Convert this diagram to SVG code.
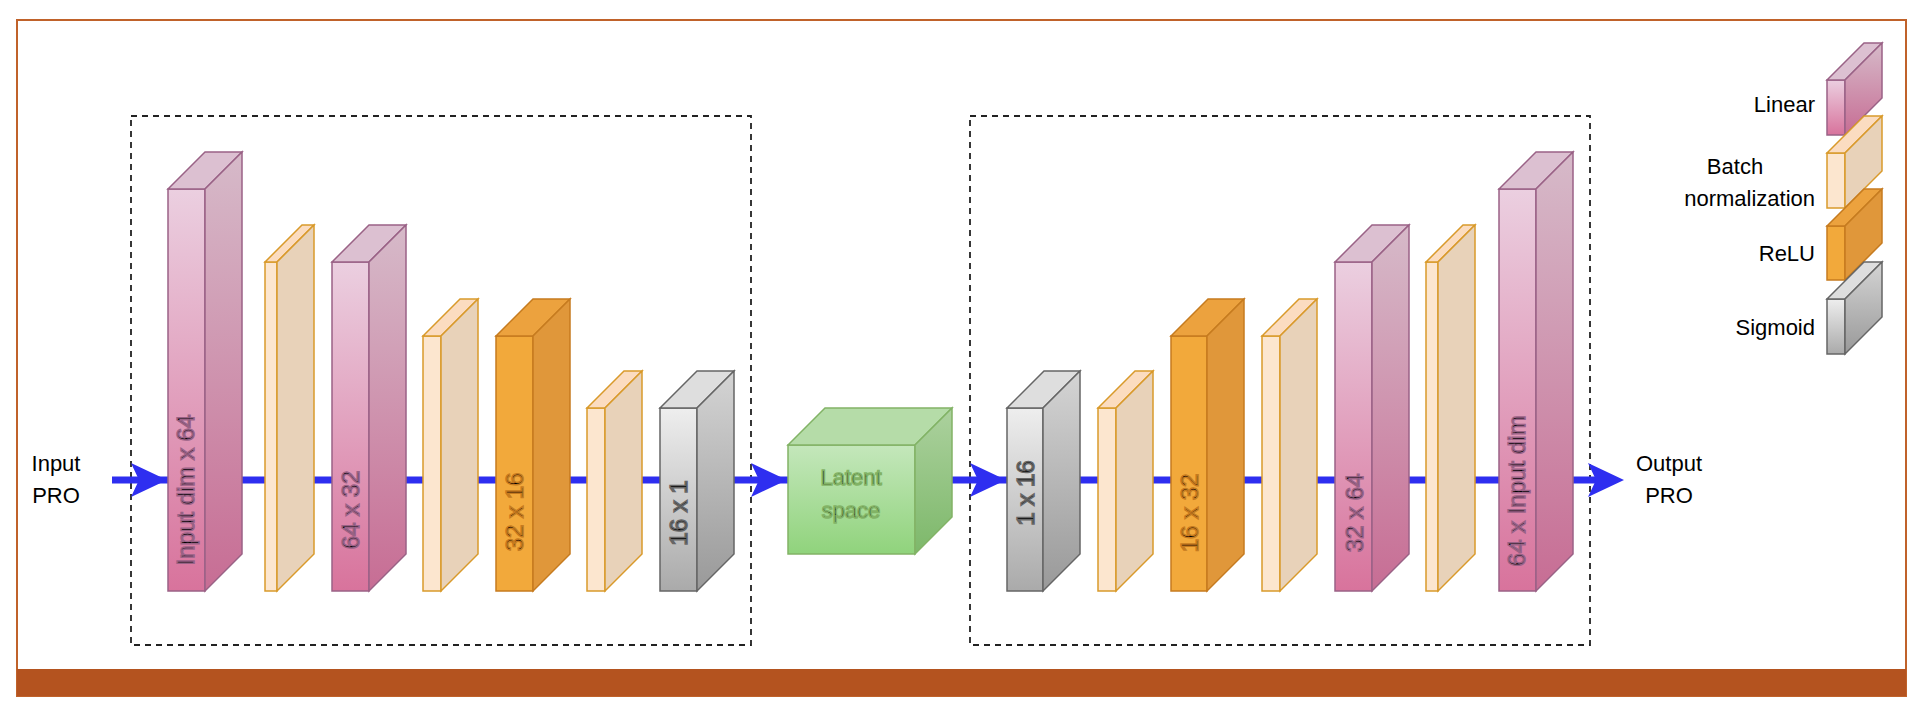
<svg xmlns="http://www.w3.org/2000/svg" width="1920" height="711" viewBox="0 0 1920 711">
<defs>
<linearGradient id="lf" x1="0" y1="0" x2="0" y2="1"><stop offset="0" stop-color="#ebcfe0"/><stop offset="1" stop-color="#d8739c"/></linearGradient>
<linearGradient id="ls" x1="0" y1="0" x2="0" y2="1"><stop offset="0" stop-color="#d6bac9"/><stop offset="1" stop-color="#c76d94"/></linearGradient>
<linearGradient id="sf" x1="0" y1="0" x2="0" y2="1"><stop offset="0" stop-color="#eeeeee"/><stop offset="1" stop-color="#aaaaaa"/></linearGradient>
<linearGradient id="ss" x1="0" y1="0" x2="0" y2="1"><stop offset="0" stop-color="#d4d4d4"/><stop offset="1" stop-color="#999999"/></linearGradient>
<linearGradient id="gf" x1="0" y1="0" x2="0" y2="1"><stop offset="0" stop-color="#c4e7bb"/><stop offset="1" stop-color="#90d37c"/></linearGradient>
<linearGradient id="gs" x1="0" y1="0" x2="0" y2="1"><stop offset="0" stop-color="#acd19e"/><stop offset="1" stop-color="#7db86a"/></linearGradient>
</defs>
<style>
text{font-family:"Liberation Sans",Arial,sans-serif;fill:#000}
.lab{font-size:22px}
.rot{font-size:24px;text-anchor:middle}
.lin .f{fill:url(#lf)} .lin .s{fill:url(#ls)} .lin .t{fill:#dcc0d1} .lin *{stroke:#9a6286;stroke-width:1.5}
.bn .f{fill:#fce6cf} .bn .s{fill:#e8d2b9} .bn .t{fill:#fbdcc0} .bn *{stroke:#d99a2b;stroke-width:1.5}
.re .f{fill:#f2a93b} .re .s{fill:#e0973a} .re .t{fill:#eca23e} .re *{stroke:#c67b1f;stroke-width:1.5}
.sg .f{fill:url(#sf)} .sg .s{fill:url(#ss)} .sg .t{fill:#dedede} .sg *{stroke:#666;stroke-width:1.5}
.lt .f{fill:url(#gf)} .lt .s{fill:url(#gs)} .lt .t{fill:#b5dca8} .lt *{stroke:#82b366;stroke-width:1.5}
.ah{fill:#2e2ef0}
.box{fill:none;stroke:#222;stroke-width:1.8;stroke-dasharray:6 5}
</style>
<rect x="17" y="20" width="1889" height="676" fill="#fff" stroke="#c0622a" stroke-width="2"/>
<rect x="17" y="669" width="1889" height="27" fill="#b4531f"/>
<rect class="box" x="131" y="116" width="620" height="529"/>
<rect class="box" x="970" y="116" width="620" height="529"/>
<g id="connectors">
<line x1="112" y1="480" x2="1610" y2="480" stroke="#2e2ef0" stroke-width="7"/>
</g>
<g id="L1" class="lin"><rect class="f" x="168" y="189" width="37" height="402"/><polygon class="t" points="168,189 205,152 242,152 205,189"/><polygon class="s" points="205,189 242,152 242,554 205,591"/><text class="rot" transform="translate(194,490) rotate(-90)">Input dim x 64</text></g>
<g id="B1" class="bn"><rect class="f" x="265" y="262" width="12" height="329"/><polygon class="t" points="265,262 302,225 314,225 277,262"/><polygon class="s" points="277,262 314,225 314,554 277,591"/></g>
<g id="L2" class="lin"><rect class="f" x="332" y="262" width="37" height="329"/><polygon class="t" points="332,262 369,225 406,225 369,262"/><polygon class="s" points="369,262 406,225 406,554 369,591"/><text class="rot" transform="translate(359,510) rotate(-90)">64 x 32</text></g>
<g id="B2" class="bn"><rect class="f" x="423" y="336" width="18" height="255"/><polygon class="t" points="423,336 460,299 478,299 441,336"/><polygon class="s" points="441,336 478,299 478,554 441,591"/></g>
<g id="R1" class="re"><rect class="f" x="496" y="336" width="37" height="255"/><polygon class="t" points="496,336 533,299 570,299 533,336"/><polygon class="s" points="533,336 570,299 570,554 533,591"/><text class="rot" transform="translate(523,512) rotate(-90)">32 x 16</text></g>
<g id="B3" class="bn"><rect class="f" x="587" y="408" width="18" height="183"/><polygon class="t" points="587,408 624,371 642,371 605,408"/><polygon class="s" points="605,408 642,371 642,554 605,591"/></g>
<g id="S1" class="sg"><rect class="f" x="660" y="408" width="37" height="183"/><polygon class="t" points="660,408 697,371 734,371 697,408"/><polygon class="s" points="697,408 734,371 734,554 697,591"/><text class="rot" transform="translate(687,513) rotate(-90)">16 x 1</text></g>
<g id="latent" class="lt"><rect class="f" x="788" y="445" width="127" height="109"/><polygon class="t" points="788,445 825,408 952,408 915,445"/><polygon class="s" points="915,445 952,408 952,517 915,554"/><text class="lab" x="851" y="485" text-anchor="middle">Latent</text><text class="lab" x="851" y="518" text-anchor="middle">space</text></g>
<g id="S2" class="sg"><rect class="f" x="1007" y="408" width="36" height="183"/><polygon class="t" points="1007,408 1044,371 1080,371 1043,408"/><polygon class="s" points="1043,408 1080,371 1080,554 1043,591"/><text class="rot" transform="translate(1034,493) rotate(-90)">1 x 16</text></g>
<g id="B4" class="bn"><rect class="f" x="1098" y="408" width="18" height="183"/><polygon class="t" points="1098,408 1135,371 1153,371 1116,408"/><polygon class="s" points="1116,408 1153,371 1153,554 1116,591"/></g>
<g id="R2" class="re"><rect class="f" x="1171" y="336" width="36" height="255"/><polygon class="t" points="1171,336 1208,299 1244,299 1207,336"/><polygon class="s" points="1207,336 1244,299 1244,554 1207,591"/><text class="rot" transform="translate(1198,513) rotate(-90)">16 x 32</text></g>
<g id="B5" class="bn"><rect class="f" x="1262" y="336" width="18" height="255"/><polygon class="t" points="1262,336 1299,299 1317,299 1280,336"/><polygon class="s" points="1280,336 1317,299 1317,554 1280,591"/></g>
<g id="L3" class="lin"><rect class="f" x="1335" y="262" width="37" height="329"/><polygon class="t" points="1335,262 1372,225 1409,225 1372,262"/><polygon class="s" points="1372,262 1409,225 1409,554 1372,591"/><text class="rot" transform="translate(1363,513) rotate(-90)">32 x 64</text></g>
<g id="B6" class="bn"><rect class="f" x="1426" y="262" width="12" height="329"/><polygon class="t" points="1426,262 1463,225 1475,225 1438,262"/><polygon class="s" points="1438,262 1475,225 1475,554 1438,591"/></g>
<g id="L4" class="lin"><rect class="f" x="1499" y="189" width="37" height="402"/><polygon class="t" points="1499,189 1536,152 1573,152 1536,189"/><polygon class="s" points="1536,189 1573,152 1573,554 1536,591"/><text class="rot" transform="translate(1525,491) rotate(-90)">64 x Input dim</text></g>
<g id="arrowheads">
<polygon class="ah" points="131,463 167,480 131,497 139,480"/>
<polygon class="ah" points="751,463 787,480 751,497 759,480"/>
<polygon class="ah" points="970,463 1006,480 970,497 978,480"/>
<polygon class="ah" points="1588,463 1624,480 1588,497 1596,480"/>
</g>
<g id="input"><text class="lab" x="56" y="471" text-anchor="middle">Input</text><text class="lab" x="56" y="503" text-anchor="middle">PRO</text></g>
<g id="output"><text class="lab" x="1669" y="471" text-anchor="middle">Output</text><text class="lab" x="1669" y="503" text-anchor="middle">PRO</text></g>
<g id="legend">
<g class="lin"><rect class="f" x="1827" y="80" width="18" height="55"/><polygon class="t" points="1827,80 1864,43 1882,43 1845,80"/><polygon class="s" points="1845,80 1882,43 1882,98 1845,135"/></g>
<g class="bn"><rect class="f" x="1827" y="153" width="18" height="55"/><polygon class="t" points="1827,153 1864,116 1882,116 1845,153"/><polygon class="s" points="1845,153 1882,116 1882,171 1845,208"/></g>
<g class="re"><rect class="f" x="1827" y="226" width="18" height="54"/><polygon class="t" points="1827,226 1864,189 1882,189 1845,226"/><polygon class="s" points="1845,226 1882,189 1882,243 1845,280"/></g>
<g class="sg"><rect class="f" x="1827" y="299" width="18" height="55"/><polygon class="t" points="1827,299 1864,262 1882,262 1845,299"/><polygon class="s" points="1845,299 1882,262 1882,317 1845,354"/></g>
<text class="lab" x="1815" y="112" text-anchor="end">Linear</text>
<text class="lab" x="1735" y="174" text-anchor="middle">Batch</text>
<text class="lab" x="1815" y="206" text-anchor="end">normalization</text>
<text class="lab" x="1815" y="261" text-anchor="end">ReLU</text>
<text class="lab" x="1815" y="335" text-anchor="end">Sigmoid</text>
</g>
</svg>
